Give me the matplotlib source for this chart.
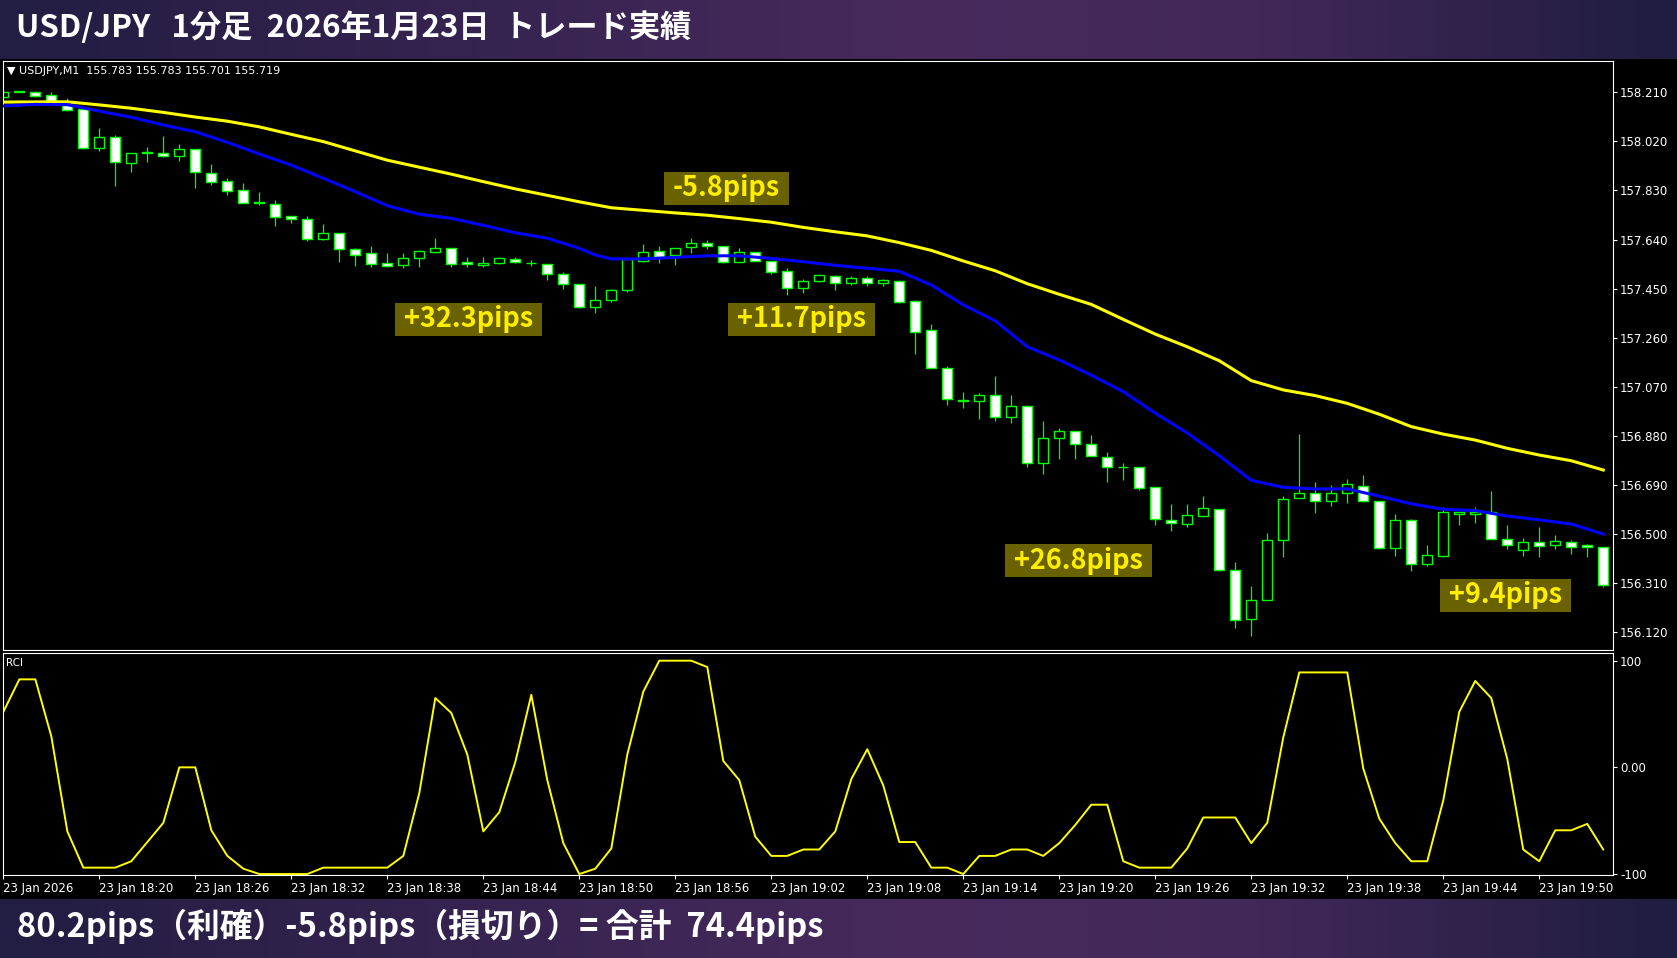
import numpy as np
import matplotlib
matplotlib.use("Agg")
import matplotlib.pyplot as plt
from matplotlib.patches import Rectangle

W, H = 1677, 958
JP = ['Noto Sans CJK JP', 'DejaVu Sans']

title = 'USD/JPY   1分足  2026年1月23日  トレード実績'
footer = '80.2pips（利確）-5.8pips（損切り）= 合計  74.4pips'
header = '▼ USDJPY,M1  155.783 155.783 155.701 155.719'

# 1-minute candles 18:14 .. 19:54
opens = [158.190, 158.212, 158.210, 158.198, 158.160, 158.145, 157.995, 158.036, 157.935, 157.975,
         157.974, 157.962, 157.989, 157.896, 157.865, 157.831, 157.784, 157.776, 157.730, 157.719,
         157.641, 157.664, 157.602, 157.587, 157.548, 157.540, 157.567, 157.593, 157.606, 157.552,
         157.540, 157.548, 157.566, 157.551, 157.544, 157.505, 157.467, 157.380, 157.405, 157.443,
         157.558, 157.594, 157.579, 157.612, 157.625, 157.614, 157.554, 157.591, 157.556, 157.517,
         157.453, 157.481, 157.500, 157.471, 157.490, 157.471, 157.481, 157.401, 157.289, 157.142,
         157.020, 157.014, 157.037, 156.952, 156.995, 156.774, 156.871, 156.898, 156.848, 156.797,
         156.761, 156.759, 156.681, 156.556, 156.538, 156.569, 156.596, 156.360, 156.170, 156.244,
         156.476, 156.639, 156.658, 156.627, 156.658, 156.687, 156.627, 156.445, 156.553, 156.383,
         156.416, 156.579, 156.579, 156.584, 156.480, 156.440, 156.468, 156.457, 156.468, 156.458,
         156.449]
highs = [158.214, 158.216, 158.214, 158.210, 158.187, 158.150, 158.070, 158.045, 157.976, 157.998,
         158.041, 158.010, 157.991, 157.932, 157.879, 157.859, 157.824, 157.792, 157.731, 157.730,
         157.699, 157.665, 157.608, 157.614, 157.587, 157.587, 157.600, 157.646, 157.607, 157.571,
         157.571, 157.572, 157.571, 157.560, 157.546, 157.513, 157.468, 157.460, 157.449, 157.565,
         157.623, 157.615, 157.607, 157.645, 157.637, 157.616, 157.606, 157.593, 157.557, 157.529,
         157.487, 157.505, 157.502, 157.498, 157.499, 157.488, 157.482, 157.406, 157.313, 157.151,
         157.049, 157.045, 157.112, 157.038, 157.000, 156.938, 156.911, 156.899, 156.882, 156.817,
         156.774, 156.760, 156.682, 156.617, 156.617, 156.648, 156.597, 156.393, 156.299, 156.504,
         156.647, 156.887, 156.702, 156.689, 156.713, 156.729, 156.630, 156.578, 156.557, 156.458,
         156.604, 156.586, 156.605, 156.667, 156.535, 156.485, 156.528, 156.497, 156.476, 156.462,
         156.450]
lows = [158.186, 158.209, 158.193, 158.175, 158.138, 157.990, 157.983, 157.848, 157.900, 157.941,
        157.961, 157.945, 157.841, 157.851, 157.813, 157.782, 157.775, 157.694, 157.705, 157.635,
        157.640, 157.554, 157.539, 157.533, 157.535, 157.531, 157.535, 157.589, 157.535, 157.535,
        157.532, 157.544, 157.548, 157.538, 157.483, 157.449, 157.376, 157.357, 157.399, 157.438,
        157.554, 157.550, 157.543, 157.589, 157.602, 157.550, 157.553, 157.555, 157.507, 157.425,
        157.434, 157.477, 157.445, 157.464, 157.460, 157.461, 157.395, 157.198, 157.142, 157.001,
        156.989, 156.947, 156.939, 156.931, 156.761, 156.734, 156.792, 156.792, 156.801, 156.703,
        156.709, 156.671, 156.535, 156.513, 156.529, 156.568, 156.358, 156.138, 156.107, 156.244,
        156.413, 156.639, 156.583, 156.610, 156.619, 156.626, 156.444, 156.416, 156.357, 156.378,
        156.413, 156.535, 156.544, 156.480, 156.444, 156.416, 156.413, 156.444, 156.424, 156.413,
        156.294]
closes = [158.210, 158.213, 158.197, 158.176, 158.140, 157.995, 158.036, 157.939, 157.974, 157.977,
          157.962, 157.989, 157.900, 157.864, 157.829, 157.783, 157.782, 157.728, 157.718, 157.641,
          157.664, 157.602, 157.579, 157.544, 157.536, 157.567, 157.596, 157.606, 157.544, 157.544,
          157.549, 157.567, 157.552, 157.549, 157.505, 157.467, 157.380, 157.405, 157.444, 157.563,
          157.591, 157.574, 157.606, 157.625, 157.614, 157.554, 157.591, 157.556, 157.515, 157.453,
          157.478, 157.501, 157.471, 157.491, 157.471, 157.482, 157.399, 157.281, 157.144, 157.022,
          157.014, 157.037, 156.952, 156.995, 156.774, 156.871, 156.898, 156.848, 156.801, 156.759,
          156.759, 156.680, 156.557, 156.542, 156.573, 156.600, 156.360, 156.168, 156.245, 156.476,
          156.635, 156.658, 156.627, 156.658, 156.693, 156.627, 156.445, 156.553, 156.383, 156.418,
          156.584, 156.584, 156.584, 156.480, 156.459, 156.468, 156.455, 156.472, 156.449, 156.449,
          156.302]

# moving averages (bar index, price)
ma_slow_bars = [0, 4, 6, 8, 10, 12, 14, 16, 18, 20, 22, 24, 26, 28, 30, 32, 34, 36, 38, 40, 42, 44,
                46, 48, 50, 52, 54, 56, 58, 60, 62, 64, 66, 68, 70, 72, 74, 76, 78, 80, 82, 84, 86,
                88, 90, 92, 94, 96, 98, 100]
ma_slow = [158.172, 158.173, 158.161, 158.148, 158.132, 158.114, 158.098, 158.076, 158.047, 158.019,
           157.983, 157.947, 157.920, 157.893, 157.864, 157.836, 157.811, 157.786, 157.763, 157.753,
           157.743, 157.734, 157.721, 157.707, 157.687, 157.670, 157.654, 157.628, 157.598, 157.557,
           157.519, 157.469, 157.428, 157.389, 157.331, 157.274, 157.225, 157.171, 157.094, 157.058,
           157.036, 157.006, 156.964, 156.916, 156.887, 156.864, 156.832, 156.806, 156.784, 156.748]
ma_fast_bars = [0, 2, 4, 6, 8, 10, 12, 14, 16, 18, 20, 22, 24, 26, 28, 30, 32, 34, 36, 37, 38, 40,
                42, 44, 46, 48, 50, 52, 54, 56, 58, 60, 62, 64, 66, 68, 70, 72, 74, 76, 78, 80, 82,
                84, 86, 88, 90, 92, 94, 96, 98, 100]
ma_fast = [158.157, 158.163, 158.162, 158.137, 158.113, 158.083, 158.057, 158.016, 157.971, 157.928,
           157.877, 157.825, 157.771, 157.738, 157.722, 157.695, 157.666, 157.645, 157.606, 157.580,
           157.565, 157.565, 157.571, 157.577, 157.577, 157.567, 157.554, 157.540, 157.529, 157.517,
           157.464, 157.387, 157.325, 157.225, 157.174, 157.115, 157.051, 156.968, 156.891, 156.803,
           156.708, 156.681, 156.675, 156.675, 156.647, 156.617, 156.596, 156.591, 156.570, 156.555,
           156.539, 156.500]

rci_vals = [52, 82.5, 82.5, 29, -60, -94, -94, -94, -88, -70, -52, 0, 0, -59, -83, -95, -100, -100,
            -100, -100, -94, -94, -94, -94, -94, -83, -24, 65, 51, 12, -60, -42, 5, 68, -12, -71,
            -100, -95, -76, 12, 71, 100, 100, 100, 94, 6, -12, -65, -83, -83, -77, -77, -60, -11,
            17, -17, -70, -70, -94, -94, -100, -83, -83, -77, -77, -83, -71, -54, -35, -35, -88,
            -94, -94, -94, -76, -47, -47, -47, -71, -52, 28, 89, 89, 89, 89, -1, -48, -71, -88,
            -88, -31, 52, 81, 65, 8, -77, -88, -59, -59, -53, -77]

price_ticks = [156.120, 156.310, 156.500, 156.690, 156.880, 157.070, 157.260, 157.450,
               157.640, 157.830, 158.020, 158.210]
rci_ticks = [100, 0, -100]
rci_ticklabels = ['100', '0.00', '-100']
time_tick_bars = list(range(0, 97, 6))
time_ticklabels = ['23 Jan 2026', '23 Jan 18:20', '23 Jan 18:26', '23 Jan 18:32', '23 Jan 18:38',
                   '23 Jan 18:44', '23 Jan 18:50', '23 Jan 18:56', '23 Jan 19:02', '23 Jan 19:08',
                   '23 Jan 19:14', '23 Jan 19:20', '23 Jan 19:26', '23 Jan 19:32', '23 Jan 19:38',
                   '23 Jan 19:44', '23 Jan 19:50']

trade_labels = ['-5.8pips', '+32.3pips', '+11.7pips', '+26.8pips', '+9.4pips']
trade_pos = [(45.2, 157.839), (29.1, 157.332), (49.9, 157.332), (67.2, 156.396), (93.9, 156.264)]


def box(l, t, r, b):
    return [l / W, 1 - b / H, (r - l) / W, (b - t) / H]


fig = plt.figure(figsize=(W / 100, H / 100), dpi=100, facecolor='black')

# banners: dark navy -> purple -> dark navy
grad = np.linspace(0, 1, 512).reshape(1, -1)
cmap = matplotlib.colors.LinearSegmentedColormap.from_list(
    'ban', [(0, '#221d42'), (0.55, '#482a5d'), (0.75, '#422859'), (1, '#1f1d40')])
for t, b in [(0, 59), (899, 958)]:
    bax = fig.add_axes(box(0, t, W, b))
    bax.imshow(grad, aspect='auto', cmap=cmap)
    bax.axis('off')

fig.text(16 / W, 1 - 28 / H, title, color='white', fontsize=22.5, fontweight='bold',
         family=JP, va='center', ha='left')
fig.text(17 / W, 1 - 926 / H, footer, color='white', fontsize=23.6, fontweight='bold',
         family=JP, va='center', ha='left')

# main price panel
ax = fig.add_axes(box(2.7, 61, 1613, 650))
ax.set_facecolor('black')
x = np.arange(len(opens))
o = np.array(opens)
c = np.array(closes)
bottoms = np.minimum(o, c)
heights = np.abs(c - o)
fills = ['white' if cc < oo else 'black' for oo, cc in zip(opens, closes)]
ax.vlines(x, lows, highs, color='#00ff00', lw=0.9, zorder=1)
ax.bar(x, heights, bottom=bottoms, width=0.62, color=fills, edgecolor='#00ff00',
       linewidth=1.0, zorder=2)
ax.plot(ma_slow_bars, ma_slow, color='#ffff00', lw=2.2, zorder=3)
ax.plot(ma_fast_bars, ma_fast, color='#0000ff', lw=2.2, zorder=3)

ax.set_xlim(-0.04, 100.61)
ax.set_ylim(156.0515, 158.3309)
ax.set_xticks([])
ax.yaxis.tick_right()
ax.set_yticks(price_ticks)
ax.set_yticklabels(['%.3f' % p for p in price_ticks])
ax.tick_params(axis='y', colors='white', labelsize=8.5, length=3, width=0.8, pad=2)
for s in ax.spines.values():
    s.set_color('white')
    s.set_linewidth(0.8)
fig.text(7 / W, 1 - 71 / H, header, color='white', fontsize=8, va='center', ha='left',
         family=['DejaVu Sans'])

# trade result labels on olive boxes (box sized to the text in pixels)
texts = []
for lab, (bx, py) in zip(trade_labels, trade_pos):
    texts.append(ax.text(bx, py, lab, ha='center', va='center', fontsize=19.5,
                         fontweight='bold', color='#ffee00', family=JP, zorder=6))
fig.canvas.draw()
inv = ax.transData.inverted()
for t, (bx, py) in zip(texts, trade_pos):
    ext = t.get_window_extent()
    cx, cy = ax.transData.transform((bx, py))
    w = ext.width + 18
    (x0, y0) = inv.transform((cx - w / 2, cy - 16.5))
    (x1, y1) = inv.transform((cx + w / 2, cy + 16.5))
    ax.add_patch(Rectangle((x0, y0), x1 - x0, y1 - y0, fc='#6a6100', ec='none', zorder=5))

# RCI panel
rax = fig.add_axes(box(2.7, 653, 1613, 875))
rax.set_facecolor('black')
rax.plot(x, rci_vals, color='#ffff00', lw=1.4)
rax.set_xlim(-0.04, 100.61)
rax.set_ylim(-100.9, 107.2)
rax.yaxis.tick_right()
rax.set_yticks(rci_ticks)
rax.set_yticklabels(rci_ticklabels)
rax.set_xticks(time_tick_bars)
rax.set_xticklabels(time_ticklabels)
plt.setp(rax.get_xticklabels(), ha='left')
rax.tick_params(colors='white', labelsize=8.5, length=3, width=0.8, pad=2)
for s in rax.spines.values():
    s.set_color('white')
    s.set_linewidth(0.8)
rax.text(0.002, 0.955, 'RCI', transform=rax.transAxes, color='white', fontsize=7.5,
         va='center', ha='left')

fig.savefig('out.png', dpi=100, facecolor='black')
